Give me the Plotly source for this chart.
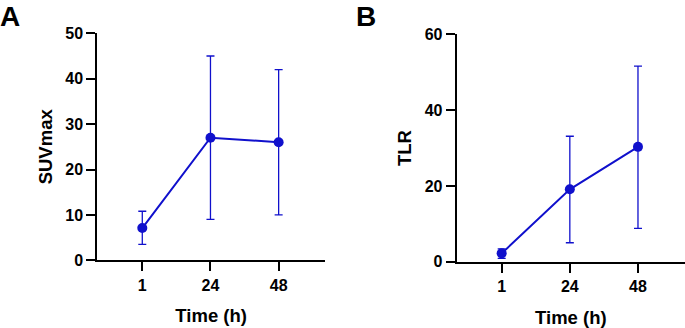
import plotly.graph_objects as go

times = ["1", "24", "48"]
suv_mean = [7.1, 27.0, 26.0]
suv_upper = [10.8, 45.0, 42.0]
suv_lower = [3.5, 9.0, 10.0]
tlr_mean = [2.2, 19.1, 30.3]
tlr_upper = [3.4, 33.1, 51.6]
tlr_lower = [0.9, 5.0, 8.8]

W, H = 685, 328
color = "#1010cc"
font_family = "Liberation Sans, Arial, sans-serif"


def err(mean, up, lo):
    return dict(type="data", symmetric=False,
                array=[u - m for u, m in zip(up, mean)],
                arrayminus=[m - l for m, l in zip(mean, lo)],
                color=color, thickness=1.3, width=4)


fig = go.Figure()
fig.add_trace(go.Scatter(x=times, y=suv_mean, mode="lines+markers",
                         line=dict(color=color, width=2),
                         marker=dict(color=color, size=10),
                         error_y=err(suv_mean, suv_upper, suv_lower),
                         xaxis="x", yaxis="y", showlegend=False))
fig.add_trace(go.Scatter(x=times, y=tlr_mean, mode="lines+markers",
                         line=dict(color=color, width=2),
                         marker=dict(color=color, size=10),
                         error_y=err(tlr_mean, tlr_upper, tlr_lower),
                         xaxis="x2", yaxis="y2", showlegend=False))

tickfont = dict(family=font_family, size=16, color="black", weight="bold")
titlefont = dict(family=font_family, size=18.5, color="black", weight="bold")

axcommon = dict(showgrid=False, zeroline=False, showline=True, linecolor="black",
                linewidth=2, ticks="outside", ticklen=9, tickwidth=2,
                tickcolor="black", tickfont=tickfont, automargin=False)

fig.update_layout(
    width=W, height=H, margin=dict(l=0, r=0, t=0, b=0, pad=0, autoexpand=False),
    plot_bgcolor="white", paper_bgcolor="white",
    xaxis=dict(domain=[97.3 / W, 325 / W], type="category", range=[-0.66, 2.68],
               anchor="y", title=dict(text="Time (h)", font=titlefont, standoff=17),
               **axcommon),
    yaxis=dict(domain=[1 - 260.3 / H, 1 - 33.3 / H], range=[0, 50], tickvals=[0, 10, 20, 30, 40, 50],
               anchor="x", title=dict(text="SUVmax", font=titlefont, standoff=8),
               **axcommon),
    xaxis2=dict(domain=[456.7 / W, 1.0], type="category", range=[-0.66, 2.69],
                anchor="y2", title=dict(text="Time (h)", font=titlefont, standoff=17),
                **axcommon),
    yaxis2=dict(domain=[1 - 261.7 / H, 1 - 34.3 / H], range=[0, 60], tickvals=[0, 20, 40, 60],
                anchor="x2", title=dict(text="TLR", font=titlefont, standoff=8),
                **axcommon),
    annotations=[
        dict(text="A", x=-2 / W, y=1 + 1 / H, xref="paper", yref="paper", xanchor="left", yanchor="top",
             showarrow=False, font=dict(family=font_family, size=28, color="black", weight="bold")),
        dict(text="B", x=354 / W, y=1 + 1 / H, xref="paper", yref="paper", xanchor="left", yanchor="top",
             showarrow=False, font=dict(family=font_family, size=28, color="black", weight="bold")),
    ],
)

fig.write_html("out.html", config={"displayModeBar": False},
               post_script="document.body.style.margin='0';document.body.style.overflow='hidden';")
